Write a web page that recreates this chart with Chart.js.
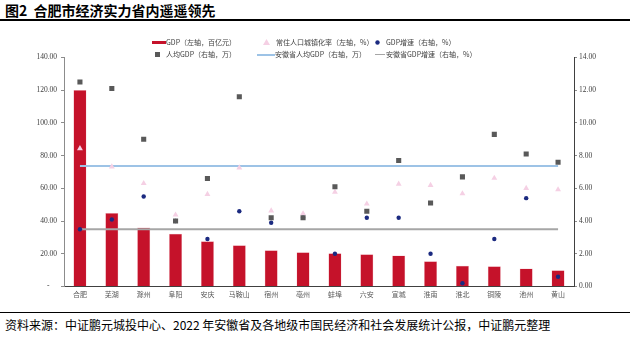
<!DOCTYPE html>
<html><head><meta charset="utf-8">
<script src="https://cdn.jsdelivr.net/npm/chart.js@4.4.1/dist/chart.umd.min.js"></script>
<style>
html,body{margin:0;padding:0;background:#fff;width:630px;height:337px;overflow:hidden;position:relative;font-family:"Noto Sans CJK SC",sans-serif;}
#title{position:absolute;left:5px;top:1px;font-size:14px;font-weight:bold;color:#000;line-height:18px;white-space:nowrap;}
#tline{position:absolute;left:0;top:19px;width:630px;height:1.5px;background:#000;}
#bline{position:absolute;left:0;top:312px;width:630px;height:1px;background:#000;}
#foot{position:absolute;left:5px;top:316px;font-size:12px;color:#000;line-height:18px;white-space:nowrap;}
#cv{position:absolute;left:0;top:30px;}
.lg{position:absolute;font-size:7px;color:#404040;line-height:9px;white-space:nowrap;}
.mk{position:absolute;}
</style></head>
<body>
<div id="title">图2&nbsp;&nbsp;合肥市经济实力省内遥遥领先</div>
<div id="tline"></div>
<canvas id="cv" width="630" height="275"></canvas>
<div class="mk" style="left:152px;top:40.5px;width:14px;height:3px;background:#C5122A"></div>
<div class="lg" style="left:166px;top:38px">GDP（左轴，百亿元）</div>
<svg class="mk" style="left:263px;top:39px" width="7" height="6"><polygon points="3.5,0 7,6 0,6" fill="#F5D0E4"/></svg>
<div class="lg" style="left:276px;top:38px">常住人口城镇化率（左轴，%）</div>
<svg class="mk" style="left:375px;top:40px" width="5" height="5"><circle cx="2.5" cy="2.5" r="2.2" fill="#1B2A80"/></svg>
<div class="lg" style="left:386px;top:38px">GDP增速（右轴，%）</div>
<div class="mk" style="left:154.5px;top:52px;width:5px;height:5px;background:#595959"></div>
<div class="lg" style="left:166px;top:50px">人均GDP（右轴，万）</div>
<div class="mk" style="left:257px;top:53.5px;width:18px;height:2px;background:#9DC3E6"></div>
<div class="lg" style="left:275px;top:50px">安徽省人均GDP（右轴，万）</div>
<div class="mk" style="left:375px;top:54px;width:10px;height:1px;background:#A6A6A6"></div>
<div class="lg" style="left:386px;top:50px">安徽省GDP增速（右轴，%）</div>
<div id="bline"></div>
<div id="foot">资料来源：中证鹏元城投中心、2022 年安徽省及各地级市国民经济和社会发展统计公报，中证鹏元整理</div>
<script>
const cities = ['合肥','芜湖','滁州','阜阳','安庆','马鞍山','宿州','亳州','蚌埠','六安','宣城','淮南','淮北','铜陵','池州','黄山'];
const gdp = [120.1,45.0,36.1,32.3,27.7,25.2,22.2,21.0,20.3,19.7,18.9,15.4,12.7,12.4,11.0,10.0];
const urbanRate = [84.4,73.2,63.1,43.8,56.4,72.6,46.3,44.6,57.8,50.5,62.7,61.9,56.8,66.3,60.1,59.2];
const gdpGrowth = [3.5,4.1,5.5,4.0,2.9,4.6,3.9,4.2,2.0,4.2,4.2,2.0,0.2,2.9,5.4,0.6];
const gdpPerCap = [12.5,12.1,9.0,4.0,6.6,11.6,4.2,4.2,6.1,4.6,7.7,5.1,6.7,9.3,8.1,7.6];
const provGdpPerCap = [7.36,7.36,7.36,7.36,7.36,7.36,7.36,7.36,7.36,7.36,7.36,7.36,7.36,7.36,7.36,7.36];
const provGdpGrowth = [3.5,3.5,3.5,3.5,3.5,3.5,3.5,3.5,3.5,3.5,3.5,3.5,3.5,3.5,3.5,3.5];
const leftTicks = {min:0,max:140,step:20};
const rightTicks = {min:0,max:14,step:2};

const serif = {family:'"Liberation Serif","Times New Roman",serif', size:7.5};
new Chart(document.getElementById('cv'), {
  data: {
    labels: cities,
    datasets: [
      {type:'line', label:'人均GDP（右轴，万）', data:gdpPerCap, yAxisID:'y1', showLine:false, pointStyle:'rect', pointRadius:3.6, backgroundColor:'#595959', borderColor:'#595959', borderWidth:0, order:1},
      {type:'line', label:'GDP增速（右轴，%）', data:gdpGrowth, yAxisID:'y1', showLine:false, pointStyle:'circle', pointRadius:2.2, backgroundColor:'#1B2A80', borderColor:'#1B2A80', borderWidth:0, order:2},
      {type:'line', label:'常住人口城镇化率（左轴，%）', data:urbanRate, yAxisID:'y', showLine:false, pointStyle:'triangle', pointRadius:3.4, backgroundColor:'#F5D0E4', borderColor:'#F5D0E4', borderWidth:0, order:3},
      {type:'line', label:'安徽省人均GDP（右轴，万）', data:provGdpPerCap, yAxisID:'y1', pointRadius:0, borderColor:'#9DC3E6', borderWidth:2, fill:false, order:4},
      {type:'line', label:'安徽省GDP增速（右轴，%）', data:provGdpGrowth, yAxisID:'y1', pointRadius:0, borderColor:'#A6A6A6', borderWidth:2, fill:false, order:5},
      {type:'bar', label:'GDP（左轴，百亿元）', data:gdp, yAxisID:'y', backgroundColor:'#C5122A', borderColor:'#F0B4BE', borderWidth:{left:0.5,right:0.5,top:0.5,bottom:0}, barPercentage:0.82, categoryPercentage:0.5, order:6}
    ]
  },
  options: {
    responsive:false, animation:false, devicePixelRatio:1,
    layout:{padding:{top:27.5,left:0,right:0,bottom:0}},
    plugins:{legend:{display:false}, tooltip:{enabled:false}},
    scales:{
      x:{
        grid:{display:false, drawTicks:false},
        border:{display:true,color:'#404040',width:1},
        ticks:{color:'#595959',font:{family:'"Noto Sans CJK SC",sans-serif',size:7},padding:4,maxRotation:0,autoSkip:false},
        afterFit:(s)=>{s.height=18.5;}
      },
      y:{
        position:'left', min:leftTicks.min, max:leftTicks.max,
        grid:{drawOnChartArea:false, drawTicks:true, tickLength:3, color:'#8C8C8C'},
        border:{display:true,color:'#8C8C8C',width:1},
        ticks:{stepSize:leftTicks.step,color:'#404040',font:serif,padding:4,
          callback:(v)=> v===0 ? '-    ' : v.toFixed(2)},
        afterFit:(s)=>{s.width=64;}
      },
      y1:{
        position:'right', min:rightTicks.min, max:rightTicks.max,
        grid:{drawOnChartArea:false, drawTicks:true, tickLength:3, color:'#8C8C8C'},
        border:{display:true,color:'#404040',width:1},
        ticks:{stepSize:rightTicks.step,color:'#404040',font:serif,padding:2,
          callback:(v)=> v.toFixed(2)},
        afterFit:(s)=>{s.width=56;}
      }
    }
  }
});
</script>
</body></html>
